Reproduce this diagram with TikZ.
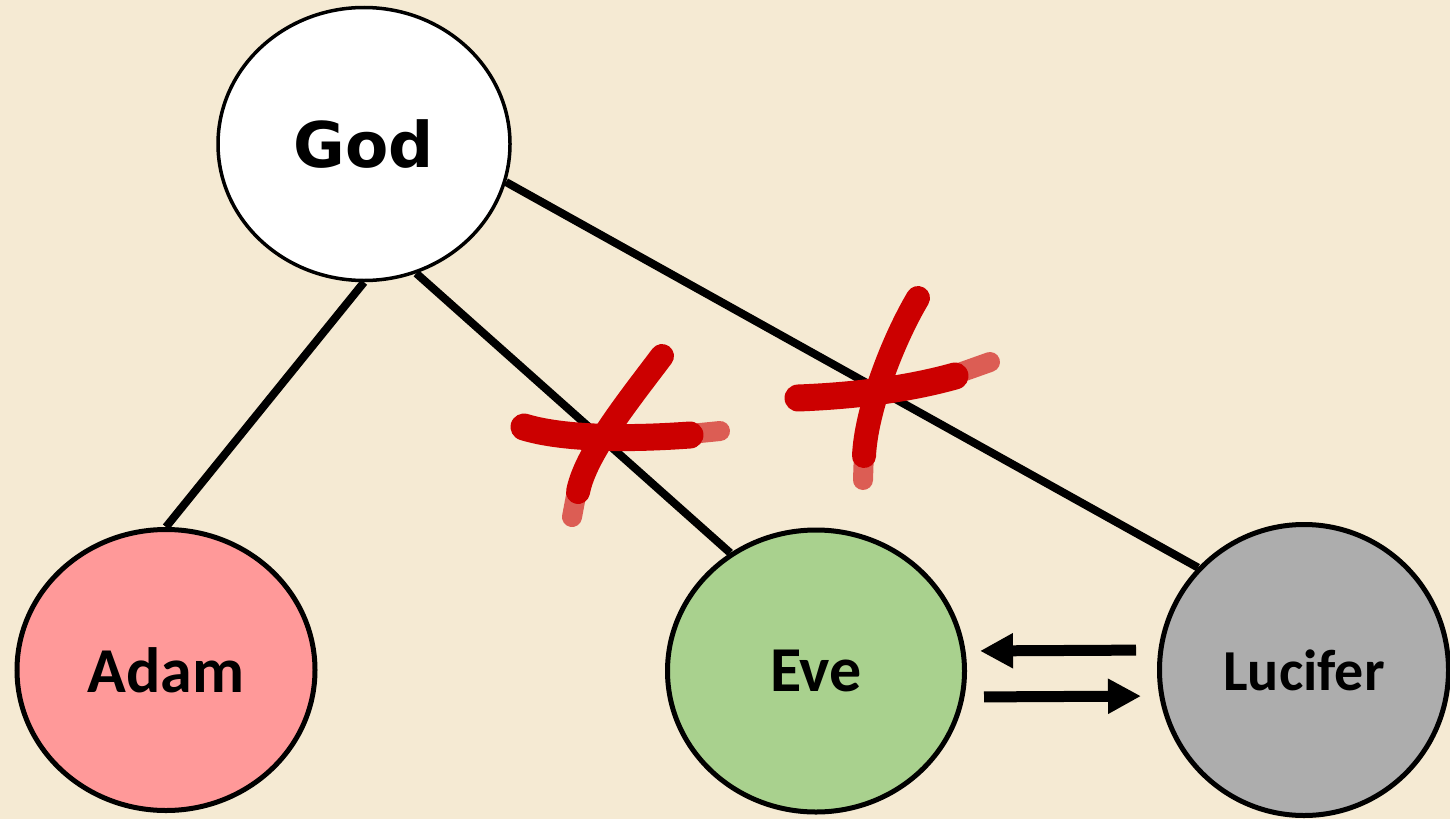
\documentclass[tikz,border=0pt]{standalone}
\usepackage{fontspec}
\setmainfont{Carlito}
\newfontfamily\godfont{DejaVu Sans}
\usetikzlibrary{shapes.geometric,arrows.meta,positioning}

\definecolor{paper}{RGB}{245,234,211}
\definecolor{adamfill}{RGB}{255,153,153}
\definecolor{evefill}{RGB}{169,209,142}
\definecolor{lucfill}{RGB}{173,173,173}
\definecolor{brushred}{RGB}{204,0,0}

\begin{document}
\begin{tikzpicture}[x=1pt, y=-1pt,
  person/.style={ellipse, draw, line width=5pt, inner sep=0pt,
    font=\fontsize{64}{76}\selectfont\bfseries},
  link/.style={line width=8pt},
  flow/.style={line width=11pt, -{Triangle[length=33pt,width=33pt]}},
  brush/.style={brushred, line width=27pt, line cap=round},
  tail/.style={brushred, line width=20pt, line cap=round, opacity=0.6}]

\fill [paper] (0,0) rectangle (1450,819);
\useasboundingbox (0,0) rectangle (1450,819);

\node [person, fill=white, line width=3.5pt, minimum width=292pt, minimum height=273pt,
  font=\godfont\fontsize{63}{76}\selectfont\bfseries] (god) at (364,144) {God};
\node [person, fill=adamfill, minimum width=298pt, minimum height=281pt] (adam) at (166,670) {Adam};
\node [person, fill=evefill, minimum width=297pt, minimum height=282pt] (eve) at (816,671) {Eve};
\node [person, fill=lucfill, minimum width=289pt, minimum height=291pt,
  font=\fontsize{58}{70}\selectfont\bfseries] (lucifer) at (1304,670) {Lucifer};

\draw [link] (god.south) -- (adam.north);
\draw [link] (god.-68) -- (eve.126);
\draw [link] (god.-15) -- (lucifer.136);

\draw [flow, shorten <=21pt, shorten >=13pt] ([yshift=20pt]lucifer.west) -- ([yshift=20pt]eve.east);
\draw [flow, shorten <=17pt, shorten >=16pt] ([yshift=-26pt]eve.east) -- ([yshift=-26pt]lucifer.west);

% crossed out
\draw [tail] (680,435) -- (720,431);
\draw [tail] (578,485) -- (572,517);
\draw [brush] (524,427) .. controls (560,438) and (620,440) .. (690,435);
\draw [brush, line width=24pt] (662,356) .. controls (625,405) and (585,455) .. (578,492);
\draw [tail] (945,378) -- (990,362);
\draw [tail] (864,450) -- (863,480);
\draw [brush] (798,398) .. controls (850,396) and (905,390) .. (955,376);
\draw [brush, line width=24pt] (918,298) .. controls (893,340) and (866,410) .. (864,456);

\end{tikzpicture}
\end{document}
